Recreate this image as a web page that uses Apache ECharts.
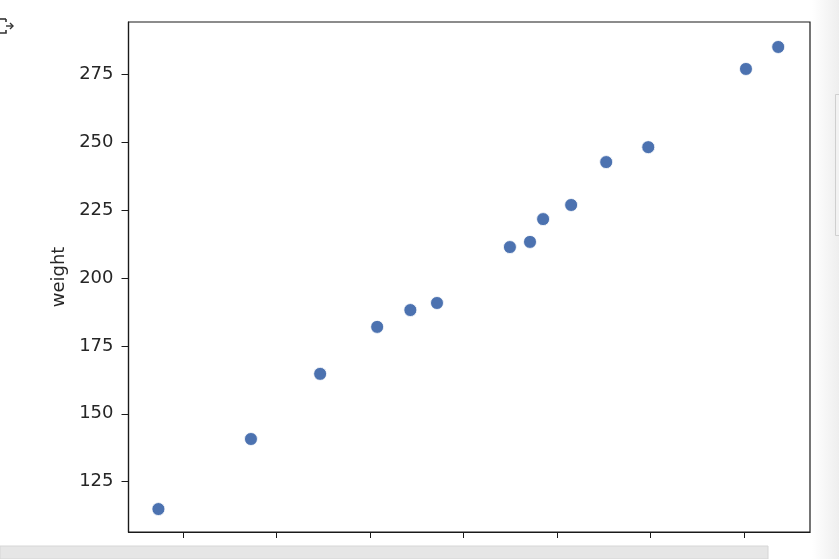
<!DOCTYPE html>
<html>
<head>
<meta charset="utf-8">
<script src="https://cdn.jsdelivr.net/npm/echarts@6/dist/echarts.min.js"></script>
<style>
html,body{margin:0;padding:0;background:#fff;}
#chart{width:839px;height:559px;}
</style>
</head>
<body>
<div id="chart"></div>
<script>
// data
const xValues = [59.47, 61.45, 62.93, 64.15, 64.86, 65.43, 66.99, 67.42, 67.70, 68.30, 69.05, 69.95, 72.04, 72.73];
const weights = [114.9, 140.7, 164.7, 182.0, 188.2, 190.8, 211.4, 213.3, 221.7, 226.9, 242.7, 248.2, 277.0, 285.1];
const yTicks = [125, 150, 175, 200, 225, 250, 275];
const xTicks = [60, 62, 64, 66, 68, 70, 72];
const yName = 'weight';

const points = xValues.map((x, i) => [x, weights[i]]);

const chart = echarts.init(document.getElementById('chart'), null, {renderer: 'canvas'});
const txt = '#262626';
chart.setOption({
  animation: false,
  backgroundColor: '#ffffff',
  grid: {left: 128.5, right: 29, top: 22, bottom: 27, show: true, borderColor: '#1a1a1a', borderWidth: 1.2, containLabel: false},
  xAxis: {
    type: 'value', min: 58.83, max: 73.41,
    axisLine: {show: true, onZero: false, lineStyle: {color: '#1a1a1a', width: 1.2}},
    axisTick: {show: true, length: 6, inside: false, customValues: xTicks, lineStyle: {color: '#1a1a1a', width: 1}},
    axisLabel: {show: false},
    splitLine: {show: false}
  },
  yAxis: {
    type: 'value', min: 106.45, max: 294.3,
    name: yName, nameLocation: 'middle', nameGap: 58, nameRotate: 90,
    nameTextStyle: {color: txt, fontSize: 18, fontFamily: 'DejaVu Sans'},
    axisLine: {show: true, onZero: false, lineStyle: {color: '#1a1a1a', width: 1.2}},
    axisTick: {show: true, length: 7, inside: false, customValues: yTicks, lineStyle: {color: '#1a1a1a', width: 1}},
    axisLabel: {show: true, customValues: yTicks, color: txt, fontSize: 18, fontFamily: 'DejaVu Sans', margin: 15},
    splitLine: {show: false}
  },
  series: [{
    type: 'scatter',
    data: points,
    symbol: 'circle',
    symbolSize: 13,
    itemStyle: {color: '#4c72b0', borderColor: '#ffffff', borderWidth: 0.8, opacity: 1}
  }],
  graphic: [
    {type: 'rect', shape: {x: 812, y: 0, width: 27, height: 559}, silent: true, z: -1,
      style: {fill: new echarts.graphic.LinearGradient(0, 0, 1, 0, [{offset: 0, color: '#ffffff'}, {offset: 1, color: '#eeeeee'}])}},
    {type: 'rect', shape: {x: 835.5, y: 94.5, width: 6, height: 141}, silent: true,
      style: {fill: '#f2f2f2', stroke: '#cfcfcf', lineWidth: 1}},
    {type: 'rect', shape: {x: 0, y: 546, width: 768, height: 13}, silent: true,
      style: {fill: '#e6e6e6', stroke: '#d6d6d6', lineWidth: 1}},
    {type: 'polyline', shape: {points: [[0, 19], [6, 19]]}, silent: true, style: {stroke: '#333', lineWidth: 1.6, fill: null}},
    {type: 'polyline', shape: {points: [[0, 33], [6, 33], [6, 30]]}, silent: true, style: {stroke: '#333', lineWidth: 1.6, fill: null}},
    {type: 'polyline', shape: {points: [[6, 19], [6, 22]]}, silent: true, style: {stroke: '#333', lineWidth: 1.6, fill: null}},
    {type: 'polyline', shape: {points: [[6, 26], [13, 26]]}, silent: true, style: {stroke: '#333', lineWidth: 1.4, fill: null}},
    {type: 'polyline', shape: {points: [[10, 23], [13, 26], [10, 29]]}, silent: true, style: {stroke: '#333', lineWidth: 1.4, fill: null}}
  ]
});
</script>
</body>
</html>
